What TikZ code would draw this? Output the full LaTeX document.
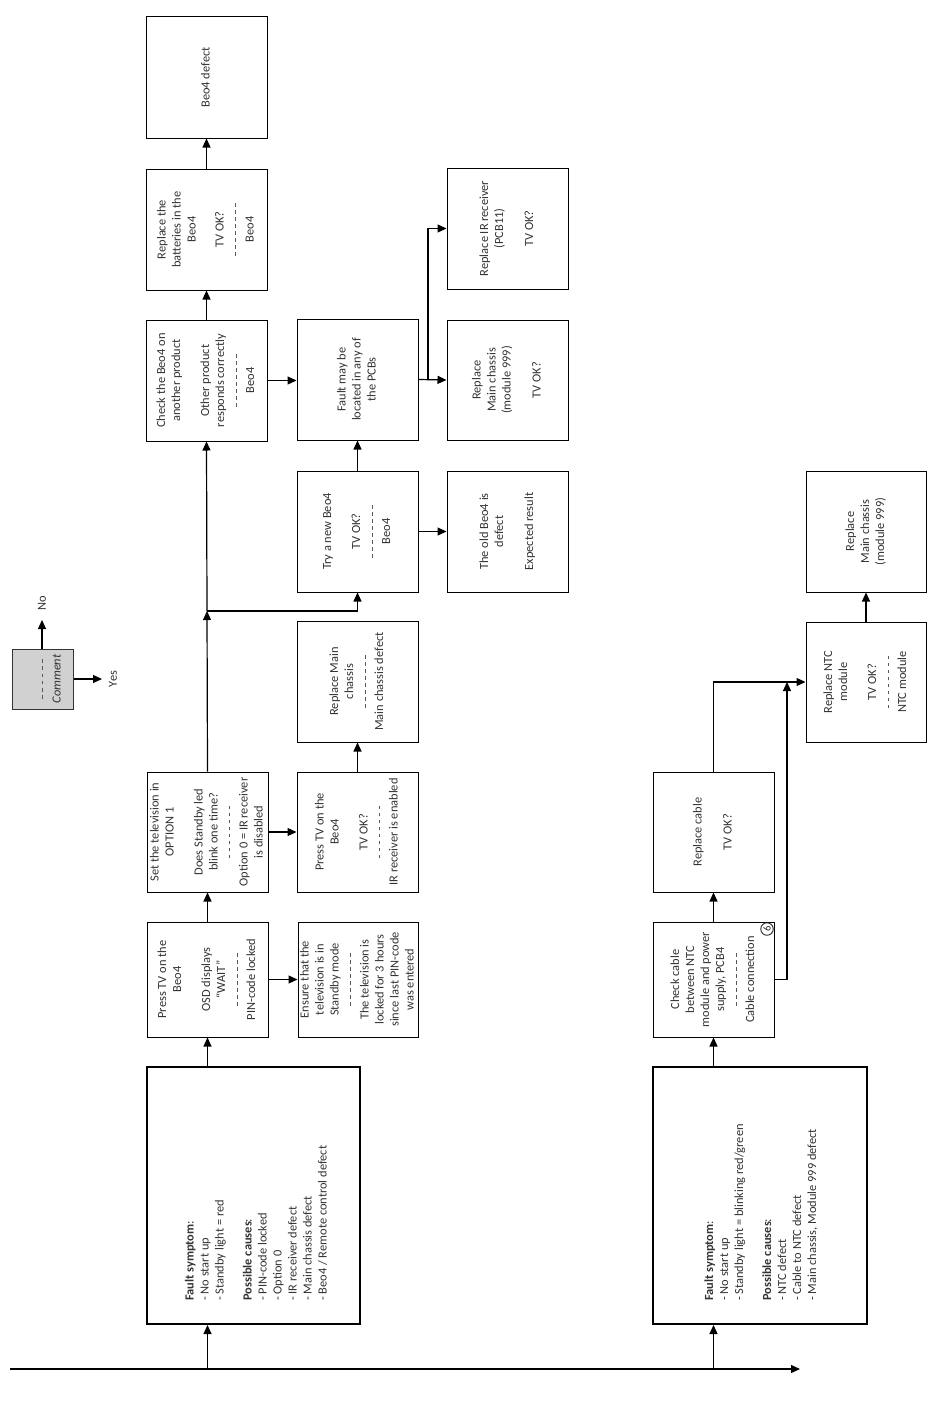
\documentclass[tikz,border=0pt]{standalone}
\usepackage{fontspec}
\setmainfont{Carlito}
\usepackage{graphicx}
\usetikzlibrary{arrows.meta,calc}
\newcommand{\dl}{\hbox to 56pt{\color{black!65}\xleaders\hbox to 7pt{\hss\vrule width 3.5pt height 3.5pt depth -2.6pt\hss}\hfill}}
\newcommand{\dls}{\hbox to 44pt{\color{black!65}\xleaders\hbox to 7pt{\hss\vrule width 3.5pt height 3.5pt depth -2.6pt\hss}\hfill}}
\newcommand{\rt}[1]{\rotatebox{90}{\begin{tabular}{@{}c@{}}#1\end{tabular}}}
\tikzset{
  txt/.style={font=\fontsize{12.4}{15}\selectfont, text=black!80},
  box/.style={draw=black, line width=1pt, fill=white, inner sep=0pt, txt},
  faultbox/.style={draw=black, line width=2pt, fill=white, inner sep=0pt},
  arr/.style={line width=1.2pt, -{Triangle[length=9pt,width=8pt]}},
}
\begin{document}
\begin{tikzpicture}[x=1pt,y=-1pt]
\useasboundingbox (0,0) rectangle (930,1405);

% ---------- legend ----------
\node[draw=black!80, line width=1pt, fill=black!18, minimum width=61pt, minimum height=60pt, inner sep=0pt] (comment) at (42.5,679) {};
\node[txt, rotate=90, inner sep=0pt] (commenttxt) at (50,679) {\begin{tabular}{@{}c@{}}\dls\\ \textit{Comment}\end{tabular}};
\coordinate (noend) at (42,620);
\coordinate (yesend) at (102,679);
\draw[arr] (comment.north -| noend) -- (noend);
\draw[arr] (comment.east) -- (yesend);
\node[txt, rotate=90] (no) at (42,603) {No};
\node[txt, rotate=90] (yes) at (113,679) {Yes};

% ---------- upper chain ----------
\node[faultbox, minimum width=213pt, minimum height=257pt] (fault1) at (253.5,1195.5) {};
\node[txt, rotate=90, anchor=west, align=left, inner sep=0pt] (fault1txt) at (256,1301) {\textbf{Fault symptom}:\\ - No start up\\ - Standby light = red\\[13pt] \textbf{Possible causes}:\\ - PIN-code locked\\ - Option 0\\ - IR receiver defect\\ - Main chassis defect\\ - Beo4 / Remote control defect};

\node[box, minimum width=121pt, minimum height=115pt] (press1) at (207.5,979.5) {\rt{Press TV on the\\ Beo4\\[14pt] OSD displays\\ “WAIT”\\ \dl\\ PIN-code locked}};
\node[box, minimum width=120pt, minimum height=115pt] (ensure) at (358,979.5) {\rt{Ensure that the\\ television is in\\ Standby mode\\ \dl\\ The television is\\ locked for 3 hours\\ since last PIN-code\\ was entered}};
\node[box, minimum width=121pt, minimum height=120pt] (settv) at (207.5,832) {\rt{Set the television in\\ OPTION 1\\[14pt] Does Standby led\\ blink one time?\\ \dl\\ Option 0 = IR receiver\\ is disabled}};
\node[box, minimum width=121pt, minimum height=120pt] (press2) at (357.5,832) {\rt{Press TV on the\\ Beo4\\[14pt] TV OK?\\ \dl\\ IR receiver is enabled}};
\node[box, minimum width=121pt, minimum height=121pt] (repmain) at (357.5,681.5) {\rt{Replace Main\\ chassis\\ \dl\\ Main chassis defect}};
\node[box, minimum width=121pt, minimum height=121pt] (trynew) at (357.5,531.5) {\rt{Try a new Beo4\\[14pt] TV OK?\\ \dl\\ Beo4}};
\node[box, minimum width=121pt, minimum height=121pt] (faultpcb) at (357.5,379.5) {\rt{Fault may be\\ located in any of\\ the PCBs}};
\node[box, minimum width=121pt, minimum height=121pt] (checkbeo) at (206.5,380.5) {\rt{Check the Beo4 on\\ another product\\[14pt] Other product\\ responds correctly\\ \dl\\ Beo4}};
\node[box, minimum width=121pt, minimum height=121pt] (batteries) at (206.5,229.5) {\rt{Replace the\\ batteries in the\\ Beo4\\[13pt] TV OK?\\ \dl\\ Beo4}};
\node[box, minimum width=121pt, minimum height=121pt] (beodefect) at (206.5,77.5) {\rt{Beo4 defect}};
\node[box, minimum width=121pt, minimum height=121pt] (irrec) at (507.5,228.5) {\rt{Replace IR receiver\\ (PCB11)\\[15pt] TV OK?}};
\node[box, minimum width=121pt, minimum height=120pt] (mainch1) at (507.5,380) {\rt{Replace\\ Main chassis\\ (module 999)\\[15pt] TV OK?}};
\node[box, minimum width=121pt, minimum height=121pt] (oldbeo) at (507.5,531.5) {\rt{The old Beo4 is\\ defect\\[15pt] Expected result}};

% ---------- lower chain ----------
\node[faultbox, minimum width=214pt, minimum height=257pt] (fault2) at (760,1195.5) {};
\node[txt, rotate=90, anchor=west, align=left, inner sep=0pt] (fault2txt) at (761,1301) {\textbf{Fault symptom}:\\ - No start up\\ - Standby light = blinking red/green\\[13pt] \textbf{Possible causes}:\\ - NTC defect\\ - Cable to NTC defect\\ - Main chassis, Module 999 defect};

\node[box, minimum width=121pt, minimum height=115pt] (checkcable) at (713.5,979.5) {\rt{Check cable\\ between NTC\\ module and power\\ supply, PCB4\\ \dl\\ Cable connection}};
\node[circle, draw=black!85, line width=0.9pt, inner sep=0pt, minimum size=12.5pt, rotate=90, font=\fontsize{10.5}{10.5}\selectfont, text=black!85] (six) at (767,929) {6};
\node[box, minimum width=121pt, minimum height=120pt] (repcable) at (713.5,832) {\rt{Replace cable\\[15pt] TV OK?}};
\node[box, minimum width=120pt, minimum height=120pt] (ntc) at (866,682) {\rt{Replace NTC\\ module\\[14pt] TV OK?\\ \dl\\ NTC module}};
\node[box, minimum width=120pt, minimum height=121pt] (mainch2) at (866,531.5) {\rt{Replace\\ Main chassis\\ (module 999)}};

% ---------- connectors ----------
\coordinate (start) at (10,1369);
\coordinate (end) at (800,1369);
\draw[arr] (start) -- (end);
\draw[arr] (fault1.south -| press1) ++(0,45) -- (fault1.south -| press1);
\draw[arr] (fault2.south -| checkcable) ++(0,45) -- (fault2.south -| checkcable);

\draw[arr] (fault1.north -| press1) -- (press1.south);
\draw[arr] (press1.north) -- (settv.south);
\draw[arr] (press1.east) -- (ensure.west);
\draw[arr] (settv.east) -- (press2.west);
\draw[arr] (press2.north) -- (repmain.south);
\coordinate (j1) at (207,611);
\draw[arr] (settv.north) -- (j1);
\draw[arr] (j1) -- (checkbeo.south);
\draw[arr] (j1) -| (trynew.south);
\draw[arr] (trynew.north) -- (faultpcb.south);
\draw[arr] (checkbeo.east) -- (checkbeo.east -| faultpcb.west);
\draw[arr] (checkbeo.north) -- (batteries.south);
\draw[arr] (batteries.north) -- (beodefect.south);
\draw[arr] (faultpcb.east) -- (mainch1.west);
\coordinate (j2) at (428,380);
\draw[arr] (j2) |- (irrec.west);
\draw[arr] (trynew.east) -- (oldbeo.west);

\draw[arr] (fault2.north -| checkcable) -- (checkcable.south);
\draw[arr] (checkcable.north) -- (repcable.south);
\coordinate (j3) at (787,682);
\draw[arr] (repcable.north) |- (ntc.west);
\draw[arr] (checkcable.east) -| (j3);
\draw[arr] (ntc.north) -- (mainch2.south);
\end{tikzpicture}
\end{document}
